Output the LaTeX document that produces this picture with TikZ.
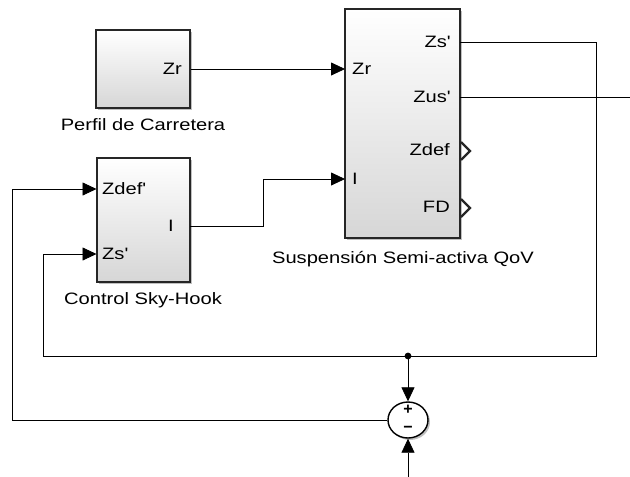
\documentclass[tikz,border=0pt]{standalone}
\usepackage{fontspec}
\setmainfont{Liberation Sans}[Ligatures=TeXOff]
\usepackage{graphicx}
\usetikzlibrary{arrows.meta,shapes.geometric,shadows}
\newcommand{\lbl}[1]{\scalebox{1.22}[1]{#1}}
\begin{document}
\begin{tikzpicture}[x=1pt,y=-1pt,
  block/.style={draw=black!85, line width=1.2pt, top color=white, bottom color=black!16,
    inner sep=0pt, drop shadow={shadow xshift=2pt, shadow yshift=-2pt, fill=black!45, opacity=0.55}},
  wire/.style={line width=0.8pt, black},
  sig/.style={wire, -{Triangle[length=14pt,width=13pt]}},
  lab/.style={font=\fontsize{16.5}{18}\selectfont, inner sep=0pt},
  sign/.style={font=\fontsize{16}{16}\selectfont\bfseries, inner sep=0pt},
  port/.style={line width=2.3pt, line join=miter, black!85}
]
\useasboundingbox (0,0) rectangle (630,477);

% blocks
\node[block, minimum width=94pt, minimum height=78pt] (perfil) at (143,69) {};
\node[block, minimum width=93pt, minimum height=124pt] (control) at (143.5,220) {};
\node[block, minimum width=115pt, minimum height=229pt] (susp) at (402.5,123.5) {};
\node[draw=black, line width=1.4pt, ellipse, fill=white, minimum width=40pt, minimum height=36pt,
  inner sep=0pt, drop shadow={shadow xshift=2pt, shadow yshift=-2pt, fill=black!45, opacity=0.55}] (sum) at (408,420) {};

% block titles
\node[lab, anchor=base] (tperfil) at (143,130) {\lbl{Perfil de Carretera}};
\node[lab, anchor=base] (tcontrol) at (143,304) {\lbl{Control Sky-Hook}};
\node[lab, anchor=base] (tsusp) at (403,263) {\lbl{Suspensión Semi-activa QoV}};

% port labels
\node[lab, anchor=base east] (lpzr) at (182,74.5) {\lbl{Zr}};
\node[lab, anchor=base west] (lszr) at (352,74.5) {\lbl{Zr}};
\node[lab, anchor=base west] (lsi) at (352,184.5) {\lbl{I}};
\node[lab, anchor=base east] (lszs) at (451,47.5) {\lbl{Zs'}};
\node[lab, anchor=base east] (lszus) at (451,102.5) {\lbl{Zus'}};
\node[lab, anchor=base east] (lszdef) at (450,155.5) {\lbl{Zdef}};
\node[lab, anchor=base east] (lsfd) at (450,212.5) {\lbl{FD}};
\node[lab, anchor=base west] (lczdef) at (102,194.5) {\lbl{Zdef'}};
\node[lab, anchor=base west] (lczs) at (102,259.5) {\lbl{Zs'}};
\node[lab, anchor=base east] (lci) at (174,231.5) {\lbl{I}};

% sum signs
\node[sign] (plus) at (408,410) {+};
\node[sign] (minus) at (408,429.5) {−};

% output port chevrons
\draw[port] (461,142) -- (470,151) -- (461,160);
\draw[port] (461,199) -- (470,208) -- (461,217);

% port coordinates
\coordinate (sZr) at (345,69);
\coordinate (sI) at (345,179);
\coordinate (sZs) at (460,42);
\coordinate (sZus) at (460,97);
\coordinate (cZdef) at (96.5,189);
\coordinate (cZs) at (96.5,254);
\coordinate (cI) at (190,226);
\coordinate (dot) at (408,356);
\coordinate (out) at (630,97);
\coordinate (bot) at (408,477);

% connectors
\draw[sig] (perfil.east) -- (sZr);
\draw[sig] (cI) -- (263,226) -- (263,179) -- (sI);
\draw[wire] (sZs) -- (596,42) -- (596,356) -- (dot);
\draw[wire] (sZus) -- (out);
\draw[sig] (dot) -- (43,356) -- (43,254) -- (cZs);
\draw[sig] (dot) -- (sum.north);
\draw[sig] (sum.west) -- (12,420) -- (12,189) -- (cZdef);
\draw[sig] (bot) -- (sum.south);
\fill (dot) circle (3.4pt);
\end{tikzpicture}
\end{document}
